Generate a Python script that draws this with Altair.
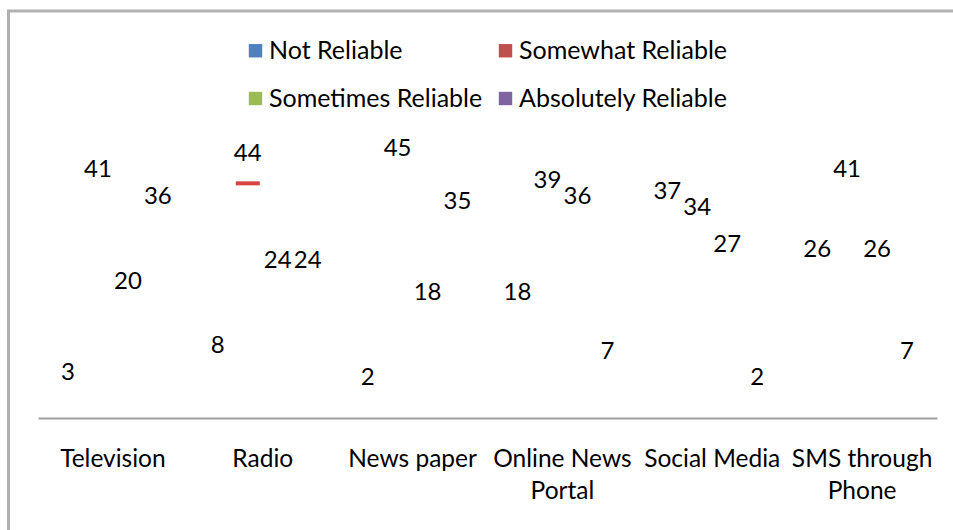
import altair as alt
import pandas as pd

categories = ["Television", "Radio", "News paper", "Online News|Portal", "Social Media", "SMS through|Phone"]
series = ["Not Reliable", "Somewhat Reliable", "Sometimes Reliable", "Absolutely Reliable"]
legend_order = ["Not Reliable", "Sometimes Reliable", "Somewhat Reliable", "Absolutely Reliable"]
colors = ["#4F81BD", "#C0504D", "#9BBB59", "#8064A2"]
not_reliable = [3, 8, 2, 18, 37, 26]
somewhat_reliable = [41, 44, 45, 39, 34, 41]
sometimes_reliable = [20, 24, 18, 36, 27, 26]
absolutely_reliable = [36, 24, 35, 7, 2, 7]

rows = []
for s, vals in zip(series, [not_reliable, somewhat_reliable, sometimes_reliable, absolutely_reliable]):
    for c, v in zip(categories, vals):
        rows.append({"category": c, "series": s, "value": v})
df = pd.DataFrame(rows)

FONT = "Lato"
FS = 25
x = alt.X("category:N", sort=categories,
          scale=alt.Scale(paddingInner=0.2, paddingOuter=0.1),
          axis=alt.Axis(title=None, labelAngle=0, ticks=False, domain=True,
                        domainColor="#a0a0a0", domainWidth=2,
                        labelFont=FONT, labelFontSize=24.5, labelColor="#000000",
                        labelBaseline="top", labelPadding=29, labelLineHeight=32,
                        labelLimit=0,
                        labelExpr="split(datum.label, '|')"))
xo = alt.XOffset("series:N", sort=series, scale=alt.Scale(paddingInner=0.2, paddingOuter=0.1))
y = alt.Y("value:Q", scale=alt.Scale(domain=[0, 60], nice=False), axis=None)

base = alt.Chart(df)

bars = base.mark_bar(fillOpacity=0, strokeOpacity=0).encode(
    x=x, xOffset=xo, y=y,
    color=alt.Color("series:N", sort=series,
                    scale=alt.Scale(domain=series, range=colors),
                    legend=alt.Legend(title=None, orient="none", legendX=205, legendY=-60,
                                      columns=2, values=legend_order,
                                      symbolType="square", symbolSize=180,
                                      symbolStrokeWidth=0, symbolOpacity=1,
                                      labelFont=FONT, labelFontSize=FS, labelColor="#000000",
                                      labelLimit=0,
                                      rowPadding=22, columnPadding=10, labelOffset=1)),
)

dash = base.transform_filter(
    (alt.datum.category == "Radio") & (alt.datum.series == "Somewhat Reliable")
).mark_tick(color="#D94442", opacity=1, thickness=4, size=24).encode(x=x, xOffset=xo, y=y)

labels = base.mark_text(font=FONT, fontSize=24, color="#000000", dy=-29, baseline="middle").encode(
    x=x, xOffset=xo, y=y, text="value:Q")

border_top = alt.Chart(pd.DataFrame({"a": [0]})).mark_rule(color="#b0b0b0", strokeWidth=3).encode(
    x=alt.value(-31), x2=alt.value(920), y=alt.value(-87))
border_left = alt.Chart(pd.DataFrame({"a": [0]})).mark_rule(color="#b0b0b0", strokeWidth=3).encode(
    x=alt.value(-29.5), y=alt.value(-88), y2=alt.value(440))

chart = alt.layer(bars, dash, labels, border_top, border_left).properties(
    width=899, height=320,
    autosize=alt.AutoSizeParams(type="none"),
    padding={"left": 38, "top": 98, "right": 16, "bottom": 112},
).configure_view(stroke=None)

chart.save("out.html", embed_options={"renderer": "svg", "actions": False})
